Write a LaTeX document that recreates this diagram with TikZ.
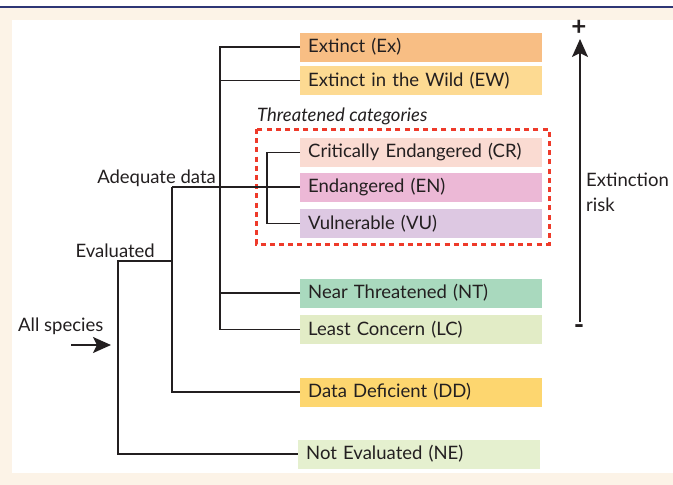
\documentclass[tikz,border=0pt]{standalone}
\usepackage{fontspec}
\setmainfont{Lato}
\usetikzlibrary{arrows.meta}
\definecolor{navy}{HTML}{2E3675}
\definecolor{cream}{HTML}{FCF3E7}
\definecolor{exc}{HTML}{F8BE84}
\definecolor{ewc}{HTML}{FDDA92}
\definecolor{crc}{HTML}{FADBD2}
\definecolor{enc}{HTML}{ECB8D6}
\definecolor{vuc}{HTML}{DDC8E2}
\definecolor{ntc}{HTML}{A9D9BE}
\definecolor{lcc}{HTML}{E2ECC6}
\definecolor{ddc}{HTML}{FDD66F}
\definecolor{nec}{HTML}{E5F0CF}
\definecolor{thrred}{HTML}{EE3A2A}
\definecolor{ink}{HTML}{231F20}
\tikzset{
  catbox/.style={anchor=west, minimum height=29pt, text width=226pt,
    inner xsep=8pt, inner ysep=0pt, align=left, text=ink,
    font=\fontsize{18.5}{20}\selectfont},
  lbl/.style={text=ink, font=\fontsize{18.5}{20}\selectfont, inner sep=0pt},
  branch/.style={draw=ink, line width=1.1pt},
}
\begin{document}
\begin{tikzpicture}[x=1pt,y=-1pt]
\useasboundingbox (0,0) rectangle (673,485);
% background
\fill[cream] (0,8) rectangle (673,485);
\fill[white] (12,20) rectangle (673,473);
\draw[navy, line width=2pt] (0,7) -- (673,7);

% categories
\node[catbox, fill=exc] (ex) at (300,47) {Extinct (Ex)};
\node[catbox, fill=ewc] (ew) at (300,80.5) {Extinct in the Wild (EW)};
\node[catbox, fill=crc] (cr) at (300,152.5) {Critically Endangered (CR)};
\node[catbox, fill=enc] (en) at (300,187) {Endangered (EN)};
\node[catbox, fill=vuc] (vu) at (300,223.5) {Vulnerable (VU)};
\node[catbox, fill=ntc] (nt) at (300,293) {Near Threatened (NT)};
\node[catbox, fill=lcc] (lc) at (300,329.5) {Least Concern (LC)};
\node[catbox, fill=ddc] (dd) at (300,392) {Data Deficient (DD)};
\node[catbox, fill=nec] (ne) at (298,454) {Not Evaluated (NE)};

% threatened group
\node[lbl, anchor=base west, font=\fontsize{18.5}{20}\selectfont\itshape] (thrlbl) at (257,121) {Threatened categories};
\draw[thrred, line width=3pt, dash pattern=on 5pt off 4.2pt] (256,129) rectangle (549,244);

% branch points
\coordinate (adq) at (220,187);
\coordinate (thr) at (267,187);
\coordinate (evl) at (172,187);
\coordinate (allj) at (118,261);

\draw[branch] (ex.west) -| (adq) |- (lc.west);
\draw[branch] (ew.west) -- (ew.west -| adq);
\draw[branch] (nt.west) -- (nt.west -| adq);
\draw[branch] (cr.west) -| (thr) |- (vu.west);
\draw[branch] (evl) -- (en.west);
\draw[branch] (evl) |- (dd.west);
\draw[branch] (allj -| evl) -- (allj) |- (ne.west);

% labels
\node[lbl, anchor=base east] (adqlbl) at (216,183) {Adequate data};
\node[lbl, anchor=base east] (evllbl) at (155,257) {Evaluated};
\node[lbl, anchor=base west] (alllbl) at (18,331) {All species};
\coordinate (allin) at (71,345);
\coordinate (allto) at (111,345);
\draw[ink, line width=1.8pt, -{Stealth[length=18pt,width=16pt,inset=4pt]}] (allin) -- (allto);

% extinction risk
\node[lbl, font=\bfseries\fontsize{26}{26}\selectfont] (plus) at (579,28) {+};
\node[lbl, font=\bfseries\fontsize{28}{26}\selectfont] (minus) at (579,330) {-};
\coordinate (risklo) at (580,322);
\coordinate (riskhi) at (580,39);
\draw[ink, line width=1.8pt, -{Stealth[length=18pt,width=16pt,inset=4pt]}] (risklo) -- (riskhi);
\node[lbl, anchor=base west] (risk) at (586,186) {Extinction};
\node[lbl, anchor=base west] (risk2) at (586,211) {risk};
\end{tikzpicture}
\end{document}
